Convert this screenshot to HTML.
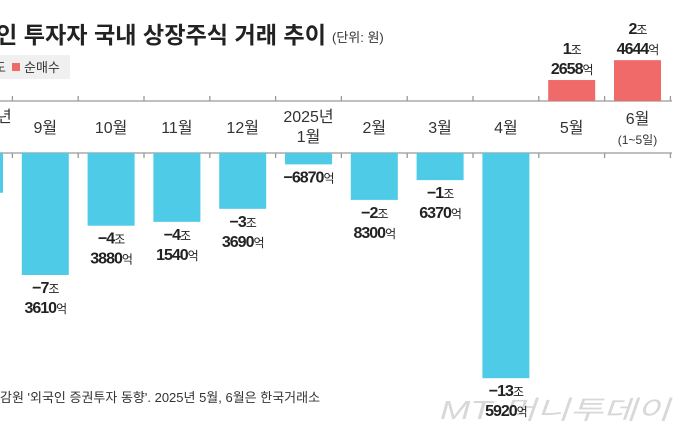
<!DOCTYPE html>
<html><head><meta charset="utf-8"><style>
html,body{margin:0;padding:0;background:#fff;width:686px;height:440px;overflow:hidden}
svg{display:block;font-family:"Liberation Sans","Noto Sans CJK KR",sans-serif}
</style></head><body>
<svg id="chart" width="686" height="440">
<text x="-4" y="43" font-size="23" font-weight="bold" fill="#222" textLength="330" lengthAdjust="spacingAndGlyphs">인 투자자 국내 상장주식 거래 추이</text>
<text x="332" y="42" font-size="13" fill="#333">(단위: 원)</text>
<rect x="0" y="55" width="70" height="24" fill="#f0f0f0"/>
<text x="-6" y="72" font-size="13" fill="#333">도</text>
<rect x="12" y="63" width="8" height="8" fill="#f06a6a"/>
<text x="24" y="72" font-size="13" fill="#333">순매수</text>
<text x="-3" y="122" font-size="16" fill="#333">년</text>
<line x1="0" y1="101" x2="672" y2="101" stroke="#999" stroke-width="1.3"/>
<line x1="0" y1="153" x2="672" y2="153" stroke="#999" stroke-width="1.3"/>
<text x="440" y="419" font-size="26" fill="#d8d8d8" font-style="italic" textLength="230" lengthAdjust="spacingAndGlyphs">MT 머니투데이</text>
<g id="marks"></g>
<text x="0" y="402" font-size="13" fill="#333">감원 '외국인 증권투자 동향'. 2025년 5월, 6월은 한국거래소</text>
</svg>
<script>
const categories=["8월","9월","10월","11월","12월","2025년|1월","2월","3월","4월","5월","6월|(1~5일)"];
const valuesJo=[-2.4,-7.361,-4.388,-4.154,-3.369,-0.687,-2.83,-1.637,-13.592,1.2658,2.4644];
const labelTop=["","−7조","−4조","−4조","−3조","","−2조","−1조","−13조","1조","2조"];
const labelBottom=["","3610억","3880억","1540억","3690억","−6870억","8300억","6370억","5920억","2658억","4644억"];
const NS="http://www.w3.org/2000/svg";
const g=document.getElementById("marks");
const x0=-20.5,step=65.8,bw=47,pxPerJo=16.57,zeroY=153,posBase=101;
function xc(i){return x0+i*step;}
function yNeg(v){return zeroY-v*pxPerJo;}
function yPos(v){return posBase-v*pxPerJo;}
function mk(tag,attrs,txt){const e=document.createElementNS(NS,tag);for(const k in attrs)e.setAttribute(k,attrs[k]);if(txt!==undefined)e.textContent=txt;g.appendChild(e);return e;}
function valText(cx,y,s){
  const t=mk("text",{x:cx,y:y,"font-size":16,"font-weight":"bold","text-anchor":"middle",fill:"#222","letter-spacing":"-1"});
  const num=s.slice(0,-1),unit=s.slice(-1);
  const a=document.createElementNS(NS,"tspan");a.textContent=num;t.appendChild(a);
  const b=document.createElementNS(NS,"tspan");b.textContent=unit;b.setAttribute("font-size","12");b.setAttribute("font-weight","normal");t.appendChild(b);
  return t;
}
for(let i=0;i<=categories.length;i++){
  const tx=xc(i)-step/2;
  const t1=mk("line",{x1:tx,y1:96,x2:tx,y2:101,stroke:"#999","stroke-width":1.3});
  
  
  const t2=mk("line",{x1:tx,y1:153,x2:tx,y2:158,stroke:"#999","stroke-width":1.3});
  
  
}
categories.forEach((c,i)=>{
  const cx=xc(i);
  const parts=c.split("|");
  if(parts.length===1){
    const t=mk("text",{x:cx,y:133,"font-size":16,"text-anchor":"middle",fill:"#333"},parts[0]);
    
    
  }else{
    const small=parts[1].startsWith("(");
    const t=mk("text",{x:cx,y:small?124:122,"font-size":16,"text-anchor":"middle",fill:"#333"},parts[0]);
    
    
    const t2=mk("text",{x:cx,y:small?144:142,"font-size":small?12:16,"text-anchor":"middle",fill:"#333"},parts[1]);
    
    
  }
  const v=valuesJo[i];
  let r,ly;
  if(v<0){
    const yb=yNeg(v);
    r=mk("rect",{x:cx-bw/2,y:zeroY,width:bw,height:yb-zeroY,fill:"#4ecbe6"});
    
    ly=yb+18;
  }else{
    const yt=yPos(v);
    r=mk("rect",{x:cx-bw/2,y:yt,width:bw,height:posBase-yt,fill:"#f06a6a"});
    
    ly=yt-26;
  }
  
  if(labelTop[i]){
    const a=valText(cx,ly,labelTop[i]);
    
    
    const b=valText(cx,ly+20,labelBottom[i]);
    
    
  }else if(labelBottom[i]){
    const b=valText(cx,ly,labelBottom[i]);
    
    
  }
});
</script>
</body></html>
